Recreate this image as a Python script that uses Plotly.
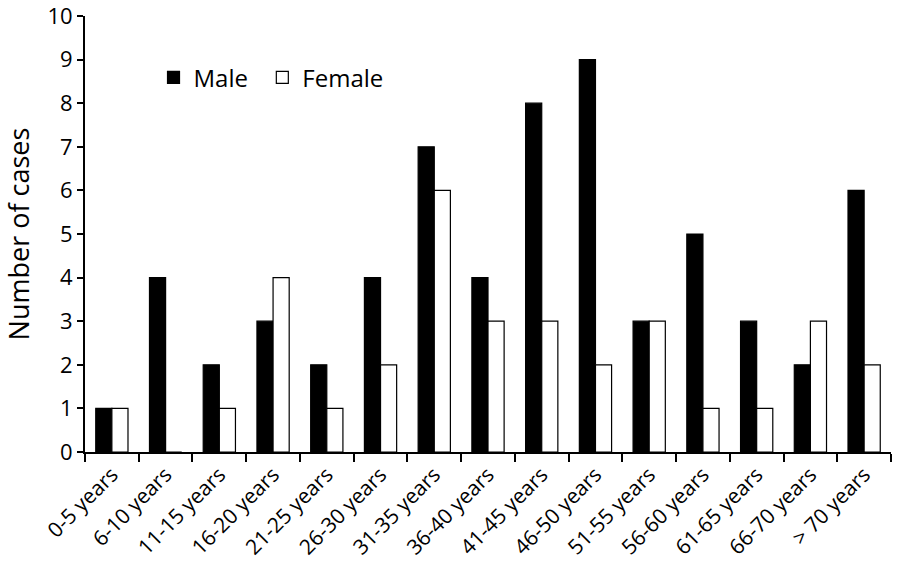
import plotly.graph_objects as go

categories = ["0-5 years", "6-10 years", "11-15 years", "16-20 years", "21-25 years",
              "26-30 years", "31-35 years", "36-40 years", "41-45 years", "46-50 years",
              "51-55 years", "56-60 years", "61-65 years", "66-70 years", "> 70 years"]
male = [1, 4, 2, 3, 2, 4, 7, 4, 8, 9, 3, 5, 3, 2, 6]
female = [1, 0, 1, 4, 1, 2, 6, 3, 3, 2, 3, 1, 1, 3, 2]
y_ticks = list(range(0, 11))

FONT = "Open Sans, Carlito, Calibri, sans-serif"

fig = go.Figure()
fig.add_trace(go.Bar(name="Male", x=categories, y=male, legend="legend", showlegend=True,
                     marker=dict(color="black", line=dict(color="black", width=1.2))))
fig.add_trace(go.Bar(name="Female", x=categories, y=female, legend="legend2", showlegend=True,
                     marker=dict(color="white", line=dict(color="black", width=1.2))))

legend_style = dict(orientation="h", y=0.91, xanchor="left", yanchor="top",
                    font=dict(size=24, family=FONT), bgcolor="rgba(0,0,0,0)",
                    itemwidth=30)

fig.update_layout(
    width=898, height=566,
    showlegend=True,
    margin=dict(l=85, r=7, t=16, b=114, autoexpand=False),
    paper_bgcolor="white", plot_bgcolor="white",
    barmode="group", bargap=0.4, bargroupgap=0,
    font=dict(family=FONT, color="black"),
    legend=dict(x=0.085, **legend_style),
    legend2=dict(x=0.22, **legend_style),
    xaxis=dict(type="category", range=[-0.5, 14.5], showline=True, linecolor="black",
               linewidth=2, ticks="outside", tickson="boundaries", ticklen=8,
               tickwidth=1.5, tickcolor="black", tickangle=-45, automargin=False,
               ticklabeloverflow="allow",
               tickfont=dict(size=21, family=FONT), showgrid=False),
    yaxis=dict(range=[0, 10], tickvals=y_ticks, showline=True, linecolor="black",
               linewidth=2, ticks="outside", ticklen=6, tickwidth=1.5, tickcolor="black",
               tickfont=dict(size=22, family=FONT), showgrid=False, zeroline=False,
               automargin=False, ticklabeloverflow="allow",
               title=dict(text="Number of cases", font=dict(size=27, family=FONT), standoff=24)),
)

fig.write_html("out.html", config={"displayModeBar": False},
               post_script="document.body.style.margin='0';")
